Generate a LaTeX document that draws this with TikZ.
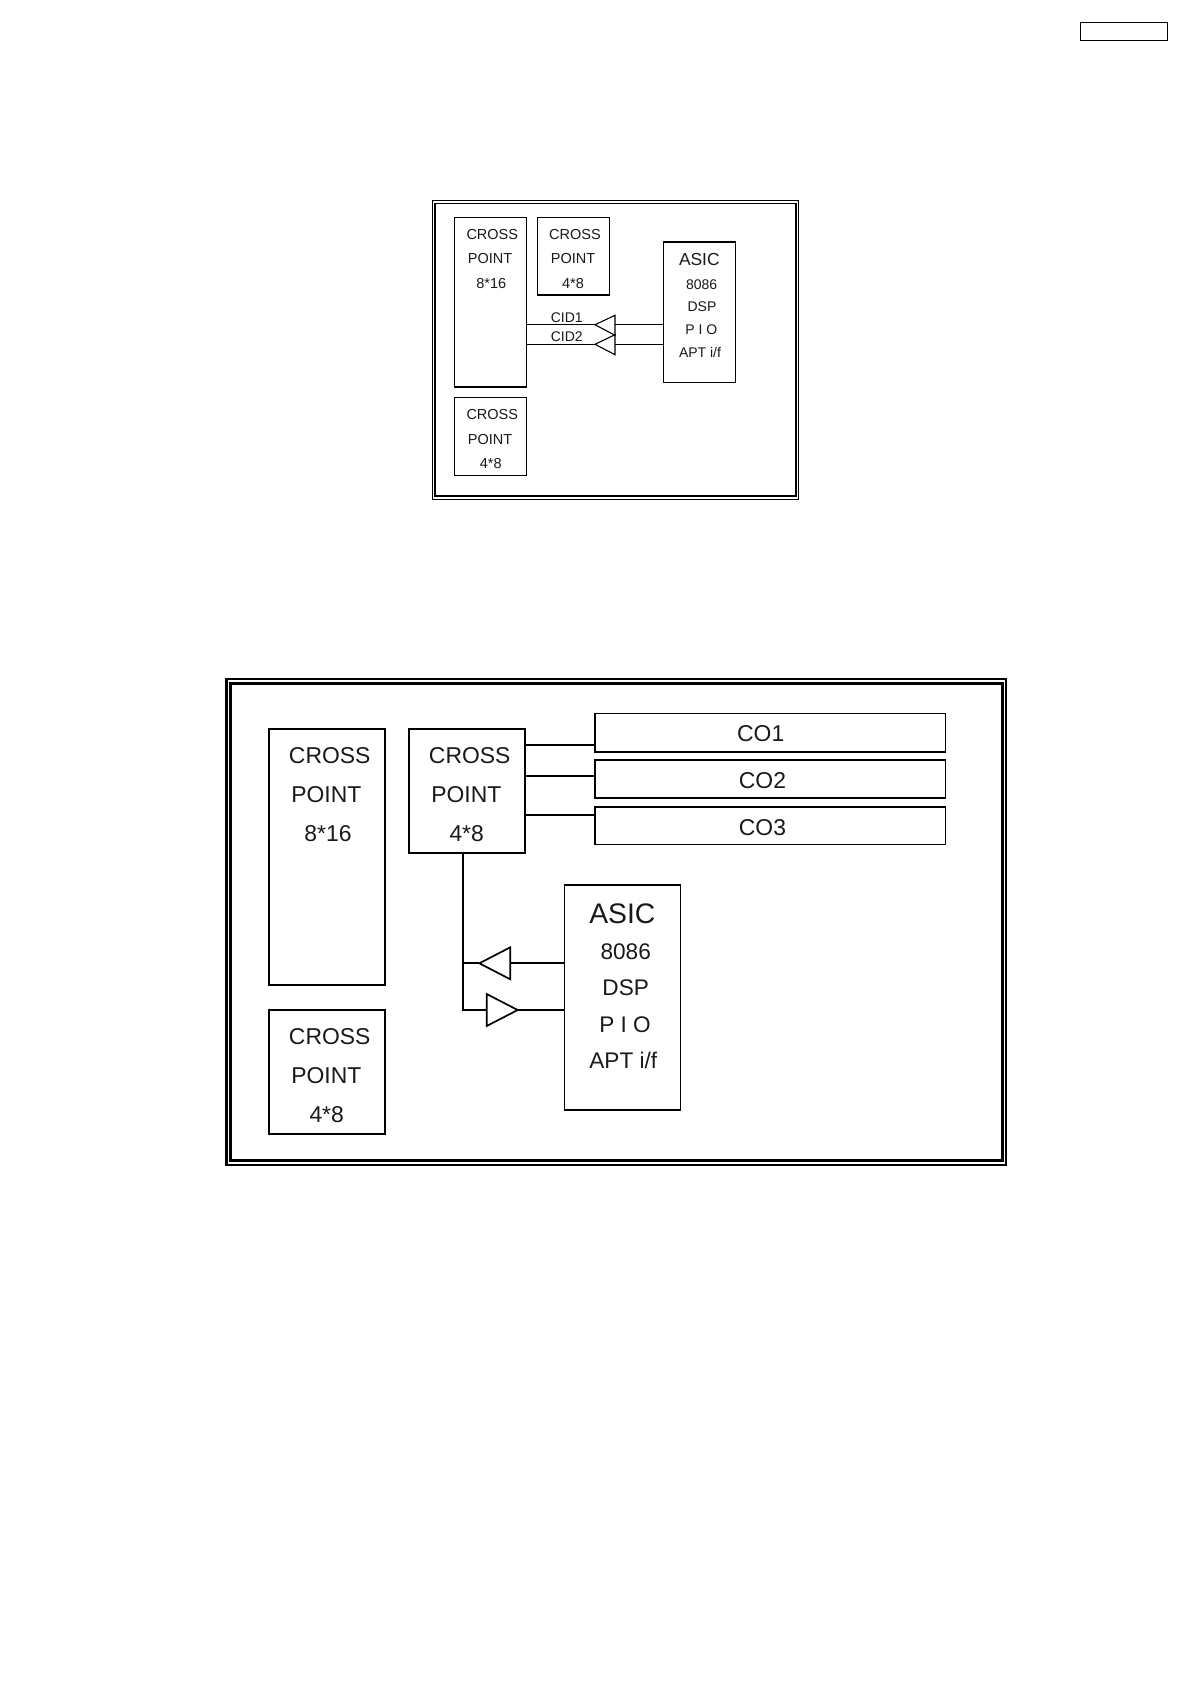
\documentclass[tikz,border=0pt]{standalone}
\usepackage{fontspec}
\setmainfont{Liberation Sans}
\tikzset{
  boxthin/.style={draw=black,line width=1.1pt,fill=none,inner sep=0pt,outer sep=0pt},
  boxthick/.style={draw=black,line width=1.6pt,fill=none,inner sep=0pt,outer sep=0pt},
  wirethin/.style={draw=black,line width=1.1pt},
  wirethick/.style={draw=black,line width=1.7pt},
  lbl/.style={inner sep=0pt,outer sep=0pt,text=black!90}
}
\newcommand{\bx}[6]{% style,name,x1,y1,x2,y2
  \pgfmathsetmacro{\cxv}{(#3+#5)/2}\pgfmathsetmacro{\cyv}{(#4+#6)/2}
  \pgfmathsetmacro{\wv}{#5-#3}\pgfmathsetmacro{\hv}{#6-#4}
  \node[#1,minimum width=\wv pt,minimum height=\hv pt] (#2) at (\cxv,\cyv) {};}
\newcommand{\lb}[5]{% name,x,y,size,text
  \node[lbl,font=\fontsize{#4}{#4}\selectfont,text height=0.716*#4pt,text depth=0pt] (#1) at (#2,#3) {#5};}
\begin{document}
\begin{tikzpicture}[x=1pt,y=-1pt]
\useasboundingbox[fill=white] (0,0) rectangle (1190,1684);
% page tag
\bx{boxthin}{tag}{1080.5}{22.5}{1167.5}{40.3}
% ---------- top diagram ----------
\bx{boxthin,line width=1.3pt}{topouter}{432.3}{200.7}{798.3}{499.3}
\bx{boxthin}{topinner}{435}{203.3}{796}{496}
\bx{boxthin}{ta}{454.3}{217.7}{526.7}{387}
\bx{boxthin}{tb}{537.3}{217.7}{609.7}{295}
\bx{boxthin}{tc}{454.3}{397.3}{526.7}{475.3}
\bx{boxthin}{tasic}{663.7}{242}{735.7}{382.7}
\lb{ta1}{492.3}{234.3}{14.5}{CROSS}
\lb{ta2}{490}{258.7}{14.5}{POINT}
\lb{ta3}{491.3}{283.7}{14.5}{8*16}
\lb{tb1}{575}{234.3}{14.5}{CROSS}
\lb{tb2}{573}{258.7}{14.5}{POINT}
\lb{tb3}{573}{283.7}{14.5}{4*8}
\lb{tc1}{492.3}{414.7}{14.5}{CROSS}
\lb{tc2}{490}{439}{14.5}{POINT}
\lb{tc3}{490.7}{463.3}{14.5}{4*8}
\lb{ts1}{699.3}{259.3}{17.4}{ASIC}
\lb{ts2}{701.7}{284}{14}{8086}
\lb{ts3}{702}{306.7}{14}{DSP}
\lb{ts4}{701.3}{329.3}{14}{P I O}
\lb{ts5}{700}{352.3}{14}{APT i/f}
\lb{cid1}{566.7}{317.5}{14}{CID1}
\lb{cid2}{566.7}{336.7}{14}{CID2}
\coordinate (t1tip) at (595,324.7);
\coordinate (t1ba) at (615,315.3);
\coordinate (t1bb) at (615,335.3);
\coordinate (t1bm) at (615,324.7);
\coordinate (t2tip) at (595,344.3);
\coordinate (t2ba) at (615,334.7);
\coordinate (t2bb) at (615,354.7);
\coordinate (t2bm) at (615,344.3);
\draw[wirethin] (t1tip) -- (t1ba) -- (t1bb) -- cycle;
\draw[wirethin] (t2tip) -- (t2ba) -- (t2bb) -- cycle;
\draw[wirethin] (ta.east |- t1tip) -- (t1tip);
\draw[wirethin] (t1bm) -- (tasic.west |- t1bm);
\draw[wirethin] (ta.east |- t2tip) -- (t2tip);
\draw[wirethin] (t2bm) -- (tasic.west |- t2bm);
% ---------- bottom diagram ----------
\bx{boxthick,line width=2.8pt}{botouter}{226.3}{679}{1006}{1165}
\bx{boxthick,line width=2.6pt}{botinner}{230.5}{683.7}{1002.5}{1160.7}
\bx{boxthick}{l1}{268.7}{729}{384.7}{985}
\bx{boxthick}{l2}{268.7}{1010}{384.7}{1133.7}
\bx{boxthick}{m}{408.7}{729}{524.7}{853}
\bx{boxthick}{co1}{595}{713.3}{945.3}{751.7}
\bx{boxthick}{co2}{595}{760}{945.3}{798}
\bx{boxthick}{co3}{595}{806.7}{945.3}{844.3}
\bx{boxthick}{asic}{564.3}{885}{680.3}{1110}
\lb{l11}{329.7}{755.7}{22.9}{CROSS}
\lb{l12}{326.3}{794.7}{22.9}{POINT}
\lb{l13}{328}{833.7}{22.9}{8*16}
\lb{l21}{329.7}{1036.3}{22.9}{CROSS}
\lb{l22}{326.3}{1075.3}{22.9}{POINT}
\lb{l23}{326.7}{1114.3}{22.9}{4*8}
\lb{m1}{469.7}{755.7}{22.9}{CROSS}
\lb{m2}{466.3}{794.7}{22.9}{POINT}
\lb{m3}{466.7}{833.7}{22.9}{4*8}
\lb{s1}{622.3}{913}{28.3}{ASIC}
\lb{s2}{625.7}{951}{22.6}{8086}
\lb{s3}{625.7}{987.7}{22.6}{DSP}
\lb{s4}{625}{1024}{22.6}{P I O}
\lb{s5}{623.3}{1060.7}{22.6}{APT i/f}
\lb{c1}{760.7}{733.3}{22.9}{CO1}
\lb{c2}{762.5}{780.3}{22.9}{CO2}
\lb{c3}{762.5}{827.3}{22.9}{CO3}
\draw[wirethick] (m.east |- 0,745) -- (co1.west |- 0,745);
\draw[wirethick] (m.east |- 0,776) -- (co2.west |- 0,776);
\draw[wirethick] (m.east |- 0,815) -- (co3.west |- 0,815);
\coordinate (upj) at (463.3,963.3);
\coordinate (upt) at (479.3,963.3);
\coordinate (upba) at (510.3,947.3);
\coordinate (upbb) at (510.3,979.3);
\coordinate (upbm) at (510.3,963.3);
\coordinate (loj) at (463.3,1010);
\coordinate (lobm) at (486.7,1010);
\coordinate (loba) at (486.7,994);
\coordinate (lobb) at (486.7,1026);
\coordinate (lot) at (517.7,1010);
\draw[wirethick] (upt) -- (upba) -- (upbb) -- cycle;
\draw[wirethick] (lot) -- (loba) -- (lobb) -- cycle;
\draw[wirethick,line join=miter] (m.south -| loj) -- (loj) -- (lobm);
\draw[wirethick] (upj) -- (upt);
\draw[wirethick] (upbm) -- (asic.west |- upbm);
\draw[wirethick] (lot) -- (asic.west |- lot);
\end{tikzpicture}
\end{document}
